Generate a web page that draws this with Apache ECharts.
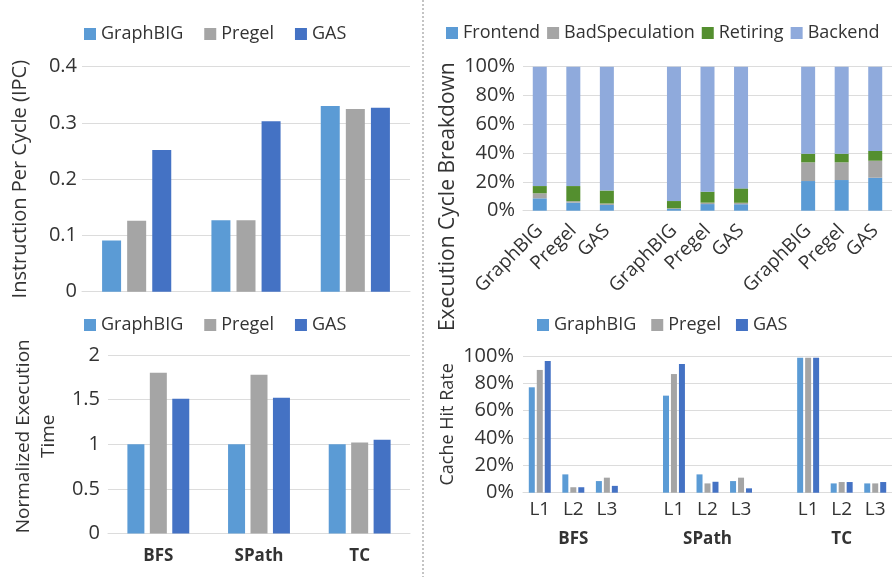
<!DOCTYPE html>
<html>
<head>
<meta charset="utf-8">
<script src="https://cdn.jsdelivr.net/npm/echarts@6/dist/echarts.min.js"></script>
<style>
html,body{margin:0;padding:0;background:#fff;}
#c{width:892px;height:577px;}
</style>
</head>
<body>
<div id="c"></div>
<script>
// ---- data ----
var workloads = ['BFS', 'SPath', 'TC'];
var frameworks = ['GraphBIG', 'Pregel', 'GAS'];

// IPC (top-left)
var ipcGraphBIG = [0.091, 0.127, 0.330];
var ipcPregel   = [0.126, 0.127, 0.325];
var ipcGAS      = [0.252, 0.303, 0.327];

// Normalized execution time (bottom-left)
var timeGraphBIG = [1.0, 1.0, 1.0];
var timePregel   = [1.80, 1.78, 1.02];
var timeGAS      = [1.51, 1.52, 1.05];

// Execution cycle breakdown (top-right), '' = spacer between workloads
var breakdownCats = ['GraphBIG', 'Pregel', 'GAS', '', 'GraphBIG', 'Pregel', 'GAS', '', 'GraphBIG', 'Pregel', 'GAS'];
var frontend  = [8.6, 5.6, 4.0, '-', 1.2, 4.6, 4.5, '-', 20.6, 21.3, 22.9];
var badSpec   = [3.5, 1.0, 1.0, '-', 0.5, 1.0, 1.0, '-', 13.0, 12.3, 11.8];
var retiring  = [5.0, 10.5, 9.0, '-', 5.0, 7.6, 10.0, '-', 6.0, 6.0, 6.8];
var backend   = [82.9, 82.9, 86.0, '-', 93.3, 86.8, 84.5, '-', 60.4, 60.4, 58.5];

// Cache hit rate (bottom-right)
var cacheCats = ['L1', 'L2', 'L3', '', 'L1', 'L2', 'L3', '', 'L1', 'L2', 'L3'];
var cacheGroupAt = {1: 'BFS', 5: 'SPath', 9: 'TC'};
var cacheGraphBIG = [77.1, 13.4, 8.5, '-', 71.0, 13.4, 8.5, '-', 98.8, 6.8, 6.8];
var cachePregel   = [89.8, 4.0, 11.0, '-', 86.8, 6.8, 11.0, '-', 98.8, 7.8, 6.8];
var cacheGAS      = [96.3, 4.0, 5.0, '-', 94.1, 8.0, 3.2, '-', 98.8, 7.8, 7.8];

var C_GB = '#5b9bd5', C_PR = '#a5a5a5', C_GAS = '#4472c4';
var C_FE = '#5b9bd5', C_BS = '#a5a5a5', C_RE = '#548f2f', C_BE = '#8faadc';
var FONT = 'Open Sans';
var TXT = '#333';

var chart = echarts.init(document.getElementById('c'), null, {renderer: 'canvas'});

function legend(left, top, names, gap, fs) {
  return {
    left: left, top: top, itemWidth: 12, itemHeight: 12, itemGap: gap,
    icon: 'rect', data: names,
    textStyle: {fontFamily: FONT, fontSize: fs, color: TXT}, selectedMode: false
  };
}
var split = {show: true, lineStyle: {color: '#dcdcdc', width: 1}};

var option = {
  animation: false,
  color: [C_GB, C_PR, C_GAS],
  textStyle: {fontFamily: FONT},
  legend: [
    legend(79, 20, frameworks, 21, 18),
    legend(79, 311, frameworks, 21, 18),
    legend(441, 19, ['Frontend', 'BadSpeculation', 'Retiring', 'Backend'], 7, 18),
    legend(532, 311, frameworks, 15, 18)
  ],
  grid: [
    {left: 82, top: 66.7, width: 328, height: 225},
    {left: 108, top: 355, width: 302, height: 178.5},
    {left: 523, top: 66.7, width: 371, height: 144},
    {left: 523, top: 356, width: 369.6, height: 136.7}
  ],
  xAxis: [
    {type: 'category', gridIndex: 0, data: workloads, axisTick: {show: false},
     axisLine: {lineStyle: {color: '#dcdcdc'}}, axisLabel: {show: false}},
    {type: 'category', gridIndex: 1, data: workloads, axisTick: {show: false},
     axisLine: {lineStyle: {color: '#dcdcdc'}},
     axisLabel: {fontFamily: FONT, fontSize: 17, fontWeight: 'bold', color: TXT, margin: 14}},
    {type: 'category', gridIndex: 2, data: breakdownCats, axisTick: {show: false},
     axisLine: {lineStyle: {color: '#dcdcdc'}},
     axisLabel: {fontFamily: FONT, fontSize: 19, color: TXT, rotate: 45, interval: 0, margin: 17}},
    {type: 'category', gridIndex: 3, data: cacheCats, axisTick: {show: false},
     axisLine: {lineStyle: {color: '#dcdcdc'}},
     axisLabel: {fontFamily: FONT, fontSize: 19, color: TXT, interval: 0, margin: 2,
       lineHeight: 29,
       formatter: function (v, i) {
         return cacheGroupAt[i] ? v + '\n{g|' + cacheGroupAt[i] + '}' : v;
       },
       rich: {g: {fontFamily: FONT, fontSize: 17, fontWeight: 'bold', color: TXT, lineHeight: 30}}}}
  ],
  yAxis: [
    {type: 'value', gridIndex: 0, min: 0, max: 0.4, interval: 0.1, splitLine: split,
     axisLabel: {fontFamily: FONT, fontSize: 20, color: TXT, margin: 5},
     name: 'Instruction Per Cycle (IPC)', nameLocation: 'middle', nameGap: 52,
     nameTextStyle: {fontFamily: FONT, fontSize: 20, color: TXT}},
    {type: 'value', gridIndex: 1, min: 0, max: 2, interval: 0.5, splitLine: split,
     axisLabel: {fontFamily: FONT, fontSize: 20, color: TXT, margin: 8},
     name: 'Normalized Execution\nTime', nameLocation: 'middle', nameGap: 47,
     nameTextStyle: {fontFamily: FONT, fontSize: 19, color: TXT, lineHeight: 25, padding: [0, 0, 0, 16]}},
    {type: 'value', gridIndex: 2, min: 0, max: 100, interval: 20, splitLine: split,
     axisLabel: {fontFamily: FONT, fontSize: 20, color: TXT, margin: 8, formatter: '{value}%'},
     name: 'Execution Cycle Breakdown', nameLocation: 'middle', nameGap: 64,
     nameTextStyle: {fontFamily: FONT, fontSize: 21, color: TXT, padding: [0, 116, 0, 0]}},
    {type: 'value', gridIndex: 3, min: 0, max: 100, interval: 20, splitLine: split,
     axisLabel: {fontFamily: FONT, fontSize: 20, color: TXT, margin: 9, formatter: '{value}%'},
     name: 'Cache Hit Rate', nameLocation: 'middle', nameGap: 66,
     nameTextStyle: {fontFamily: FONT, fontSize: 18, color: TXT}}
  ],
  series: [
    {name: 'GraphBIG', type: 'bar', xAxisIndex: 0, yAxisIndex: 0, data: ipcGraphBIG, barWidth: 19, barGap: '32%', itemStyle: {color: C_GB}},
    {name: 'Pregel', type: 'bar', xAxisIndex: 0, yAxisIndex: 0, data: ipcPregel, barWidth: 19, barGap: '32%', itemStyle: {color: C_PR}},
    {name: 'GAS', type: 'bar', xAxisIndex: 0, yAxisIndex: 0, data: ipcGAS, barWidth: 19, barGap: '32%', itemStyle: {color: C_GAS}},

    {name: 'GraphBIG', type: 'bar', xAxisIndex: 1, yAxisIndex: 1, data: timeGraphBIG, barWidth: 17, barGap: '32%', itemStyle: {color: C_GB}},
    {name: 'Pregel', type: 'bar', xAxisIndex: 1, yAxisIndex: 1, data: timePregel, barWidth: 17, barGap: '32%', itemStyle: {color: C_PR}},
    {name: 'GAS', type: 'bar', xAxisIndex: 1, yAxisIndex: 1, data: timeGAS, barWidth: 17, barGap: '32%', itemStyle: {color: C_GAS}},

    {name: 'Frontend', type: 'bar', stack: 'bd', xAxisIndex: 2, yAxisIndex: 2, data: frontend, barWidth: 14, itemStyle: {color: C_FE}},
    {name: 'BadSpeculation', type: 'bar', stack: 'bd', xAxisIndex: 2, yAxisIndex: 2, data: badSpec, barWidth: 14, itemStyle: {color: C_BS}},
    {name: 'Retiring', type: 'bar', stack: 'bd', xAxisIndex: 2, yAxisIndex: 2, data: retiring, barWidth: 14, itemStyle: {color: C_RE}},
    {name: 'Backend', type: 'bar', stack: 'bd', xAxisIndex: 2, yAxisIndex: 2, data: backend, barWidth: 14, itemStyle: {color: C_BE}},

    {name: 'GraphBIG', type: 'bar', xAxisIndex: 3, yAxisIndex: 3, data: cacheGraphBIG, barWidth: 6, barGap: '33%', itemStyle: {color: C_GB}},
    {name: 'Pregel', type: 'bar', xAxisIndex: 3, yAxisIndex: 3, data: cachePregel, barWidth: 6, barGap: '33%', itemStyle: {color: C_PR}},
    {name: 'GAS', type: 'bar', xAxisIndex: 3, yAxisIndex: 3, data: cacheGAS, barWidth: 6, barGap: '33%', itemStyle: {color: C_GAS}}
  ],
  graphic: [
    {type: 'line', shape: {x1: 423, y1: 0, x2: 423, y2: 577},
     style: {stroke: '#8a8a8a', lineWidth: 1, lineDash: [2, 2]}}
  ]
};
chart.setOption(option);
</script>
</body>
</html>
